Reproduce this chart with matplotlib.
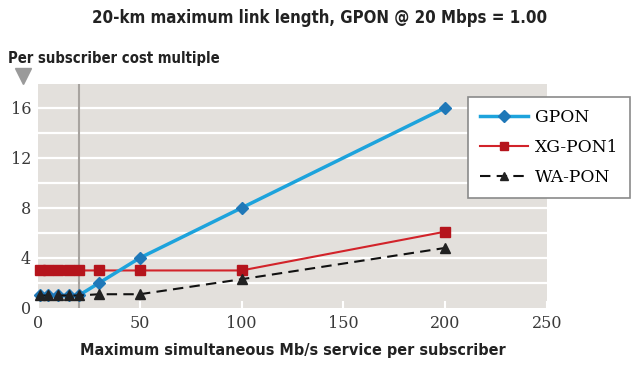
import matplotlib
matplotlib.use("Agg")
import matplotlib.pyplot as plt
from matplotlib.lines import Line2D

x_vals = [1, 5, 10, 15, 20, 30, 50, 100, 200]
gpon = [1, 1, 1, 1, 1, 2, 4, 8, 16]
xgpon1 = [3, 3, 3, 3, 3, 3, 3, 3, 6.1]
wapon = [1, 1, 1, 1, 1, 1.1, 1.1, 2.3, 4.8]
x_ticks = [0, 50, 100, 150, 200, 250]
y_ticks = [0, 4, 8, 12, 16]

title = "20-km maximum link length, GPON @ 20 Mbps = 1.00"
ylabel = "Per subscriber cost multiple"
xlabel = "Maximum simultaneous Mb/s service per subscriber"

cond = dict(family="DejaVu Sans", stretch="condensed", fontweight="bold")
serif = ["DejaVu Serif"]

fig = plt.figure(figsize=(6.4, 3.65), dpi=100)
ax = fig.add_axes([38/640, 1-308/365, 509/640, 224/365])
ax.set_facecolor("#e3e0dc")
ax.set_xlim(0, 250)
ax.set_ylim(0, 17.9)
for s in ax.spines.values():
    s.set_visible(False)
for g in range(2, 18, 2):
    ax.axhline(g, color="white", lw=1.6, zorder=1)
ax.axvline(20, color="#a8a4a0", lw=1.5, zorder=1.5)

ax.plot(x_vals, gpon, color="#1da3dc", lw=2.5, marker="D", ms=6,
        mfc="#1f78b8", mec="#1f78b8", zorder=3, clip_on=False, label="GPON")
ax.plot(x_vals, xgpon1, color="#d2232a", lw=1.5, marker="s", ms=7,
        mfc="#b5141c", mec="#b5141c", zorder=2.5, clip_on=False, label="XG-PON1")
ax.plot(x_vals, wapon, color="#111111", lw=1.5, ls=(0, (5, 3)), marker="^", ms=7,
        mfc="#222222", mec="#222222", zorder=4, clip_on=False, label="WA-PON")

ax.set_xticks(x_ticks)
ax.set_yticks(y_ticks)
ax.set_xticklabels([str(v) for v in x_ticks], family=serif, fontsize=11.5, color="#3a3a3a")
ax.set_yticklabels([str(v) for v in y_ticks], family=serif, fontsize=11.5, color="#3a3a3a")
ax.tick_params(axis="y", length=0, pad=5)
ax.tick_params(axis="x", direction="in", color="white", length=5, width=1.5, pad=5)

ax.set_xlabel(xlabel, fontsize=11.6, color="#222222", labelpad=8, **cond)
fig.text(0.5, 0.952, title, ha="center", va="center", fontsize=12.1,
         color="#222222", **cond)
fig.text(0.012, 0.84, ylabel, ha="left", va="center", fontsize=10.6,
         color="#222222", **cond)
fig.add_artist(Line2D([23/640], [1-76/365], marker="v", ms=11, color="#9a9a9a",
                      transform=fig.transFigure))

leg = ax.legend(loc="upper left", bbox_to_anchor=(0.845, 0.942), frameon=True,
                fancybox=False, framealpha=1, edgecolor="#8a8a8a",
                prop={"family": serif, "size": 12.3}, handlelength=2.8,
                labelspacing=0.75, borderpad=0.7, handletextpad=0.4,
                borderaxespad=0)
leg.get_frame().set_linewidth(1.2)
for h in leg.legend_handles:
    h.set_markersize(6)

fig.savefig("out.png", dpi=100, facecolor="white")
